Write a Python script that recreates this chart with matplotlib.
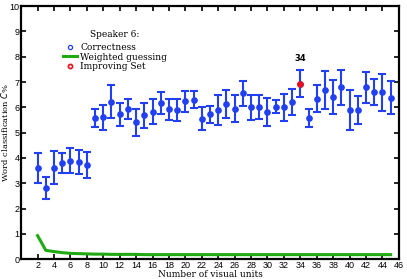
import matplotlib
matplotlib.use("Agg")
import matplotlib.pyplot as plt
from matplotlib.lines import Line2D

units = list(range(2, 46))
correctness = [3.60, 2.80, 3.62, 3.80, 3.90, 3.84, 3.72,
               5.58, 5.60, 6.23, 5.72, 5.94, 5.41, 5.68, 5.83, 6.17, 5.93, 5.91, 6.24, 6.31,
               5.55, 5.72, 5.90, 6.13, 5.95, 6.55, 6.00, 6.00, 5.83, 6.03, 6.00, 6.20,
               6.93, 5.58, 6.35, 6.68, 6.41, 6.79, 5.89, 5.89, 6.80, 6.60, 6.60, 6.38]
errors = [0.60, 0.43, 0.66, 0.40, 0.48, 0.46, 0.53,
          0.34, 0.49, 0.66, 0.47, 0.41, 0.54, 0.51, 0.50, 0.42, 0.41, 0.44, 0.42, 0.35,
          0.46, 0.33, 0.60, 0.57, 0.52, 0.48, 0.49, 0.47, 0.55, 0.25, 0.53, 0.51,
          0.53, 0.35, 0.52, 0.76, 0.67, 0.69, 0.79, 0.54, 0.61, 0.52, 0.73, 0.66]
guessing = [0.93, 0.35, 0.30, 0.26, 0.23, 0.22, 0.21, 0.20, 0.20, 0.19, 0.19,
            0.19, 0.19, 0.18, 0.18, 0.18, 0.18, 0.18, 0.18, 0.18, 0.18, 0.18,
            0.18, 0.18, 0.18, 0.18, 0.18, 0.18, 0.18, 0.18, 0.18, 0.18, 0.18,
            0.18, 0.18, 0.18, 0.18, 0.18, 0.18, 0.18, 0.18, 0.18, 0.18, 0.18]
best_unit = 34
xticks = list(range(2, 47, 2))
yticks = list(range(0, 11))

blue = "#2140f5"
green = "#1faa12"
red = "#e8101a"

fig = plt.figure(figsize=(4.07, 2.79), dpi=100)
ax = fig.add_axes([0.052, 0.071, 0.928, 0.907])

ax.plot(units, guessing, color=green, lw=2.2, zorder=2)
ax.errorbar(units, correctness, yerr=errors, fmt="o", color=blue, ms=3.8,
            elinewidth=1.5, capsize=2.7, capthick=1.5, zorder=3)
i = units.index(best_unit)
ax.plot([best_unit], [correctness[i]], "o", color=red, ms=3.8, zorder=4)
ax.annotate(str(best_unit), (best_unit, correctness[i] + errors[i]),
            xytext=(0, 5), textcoords="offset points", ha="center", va="bottom",
            fontsize=6, fontweight="bold", family="DejaVu Sans")

ax.set_xlim(0, 46)
ax.set_ylim(0, 10)
ax.set_xticks(xticks)
ax.set_yticks(yticks)
ax.tick_params(direction="in", top=True, right=True, length=3.5, width=1.2,
               labelsize=6.5, pad=1.5)
ax.tick_params(axis="y", pad=1)
for lab in ax.get_xticklabels() + ax.get_yticklabels():
    lab.set_family("Liberation Sans")
for s in ax.spines.values():
    s.set_linewidth(1.6)

ax.set_xlabel("Number of visual units", family="DejaVu Serif", fontsize=6.5, labelpad=0)
ax.set_ylabel("Word classification $C$%", family="DejaVu Serif", fontsize=6)
ax.yaxis.set_label_coords(-0.030, 0.5)

handles = [
    Line2D([], [], marker="o", ls="none", mfc="none", mec=blue, ms=3, mew=0.9),
    Line2D([], [], color=green, lw=2.2),
    Line2D([], [], marker="o", ls="none", mfc="none", mec=red, ms=3, mew=1.2),
]
leg = ax.legend(handles, ["Correctness", "Weighted guessing", "Improving Set"],
                title="Speaker 6:", loc="upper left", bbox_to_anchor=(0.10, 0.92),
                frameon=False, prop={"family": "DejaVu Serif", "size": 6.5},
                handlelength=1.65, handletextpad=0.3, labelspacing=0.05,
                borderaxespad=0)
leg.get_title().set_family("DejaVu Serif")
leg.get_title().set_fontsize(6.5)
leg._legend_box.sep = 3

fig.savefig("out.png", dpi=100)
